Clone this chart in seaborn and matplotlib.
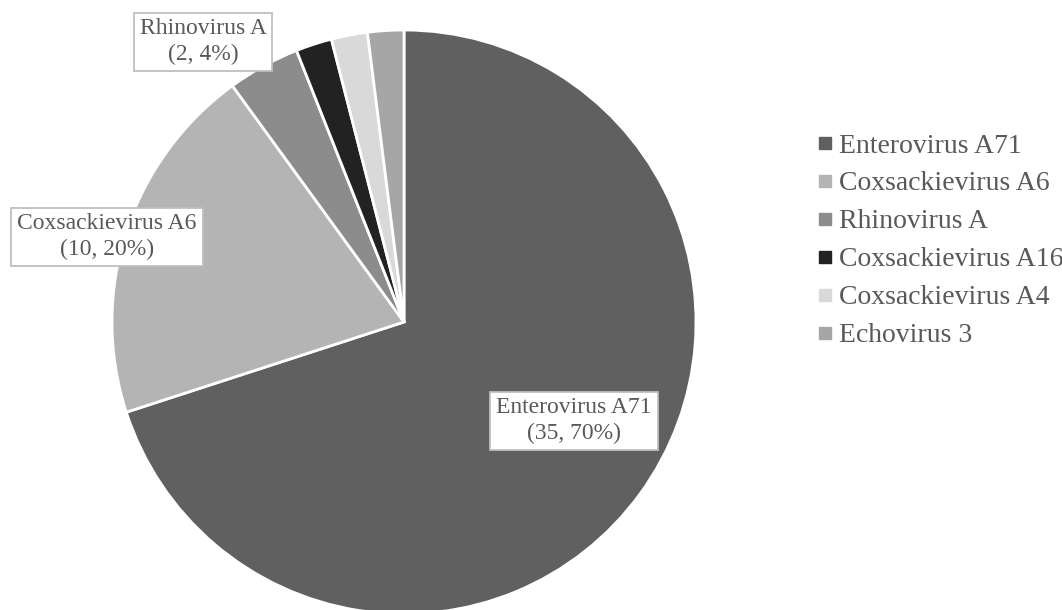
import matplotlib
matplotlib.use("Agg")
import matplotlib.pyplot as plt
import seaborn as sns
from matplotlib.lines import Line2D

sns.set_style("white")
plt.rcParams['font.family'] = ['Liberation Serif', 'DejaVu Serif']

viruses = ["Enterovirus A71", "Coxsackievirus A6", "Rhinovirus A",
           "Coxsackievirus A16", "Coxsackievirus A4", "Echovirus 3"]
counts = [35, 10, 2, 1, 1, 1]
percents = [70, 20, 4, 2, 2, 2]
colors = ["#606060", "#b4b4b4", "#8c8c8c", "#222222", "#d9d9d9", "#a6a6a6"]

W, H = 1062, 610
fig = plt.figure(figsize=(W / 100, H / 100), dpi=100)
cx, cy, r = 404, 322, 292
ax = fig.add_axes([(cx - r) / W, (H - cy - r) / H, 2 * r / W, 2 * r / H])
ax.pie(counts, colors=colors, startangle=90, counterclock=False,
       wedgeprops=dict(edgecolor="white", linewidth=2), radius=1)
ax.set_xlim(-1, 1)
ax.set_ylim(-1, 1)
ax.set_aspect("auto")
ax.axis("off")
for p in ax.patches:
    p.set_clip_on(False)

def px2data(px, py):
    return (px - cx) / r, (cy - py) / r

label_pos = {0: (574, 421), 1: (107, 237), 2: (203, 42)}
for i, (px, py) in label_pos.items():
    x, y = px2data(px, py)
    ax.text(x, y, f"{viruses[i]}\n({counts[i]}, {percents[i]}%)",
            ha="center", va="center", fontsize=17, color="#595959",
            linespacing=1.3,
            bbox=dict(boxstyle="square,pad=0.25", facecolor="white",
                      edgecolor="#bfbfbf", linewidth=1.3),
            clip_on=False)

handles = [Line2D([0], [0], marker="s", linestyle="none", markersize=8,
                  markerfacecolor=c, markeredgecolor=c) for c in colors]
fig.legend(handles, viruses, loc="upper left",
           bbox_to_anchor=(808 / W, 1 - 122 / H), frameon=False,
           fontsize=20, labelcolor="#595959", handlelength=0.45,
           handletextpad=0.28, labelspacing=0.45, borderpad=0.4,
           borderaxespad=0)

fig.savefig("out.png", dpi=100)
